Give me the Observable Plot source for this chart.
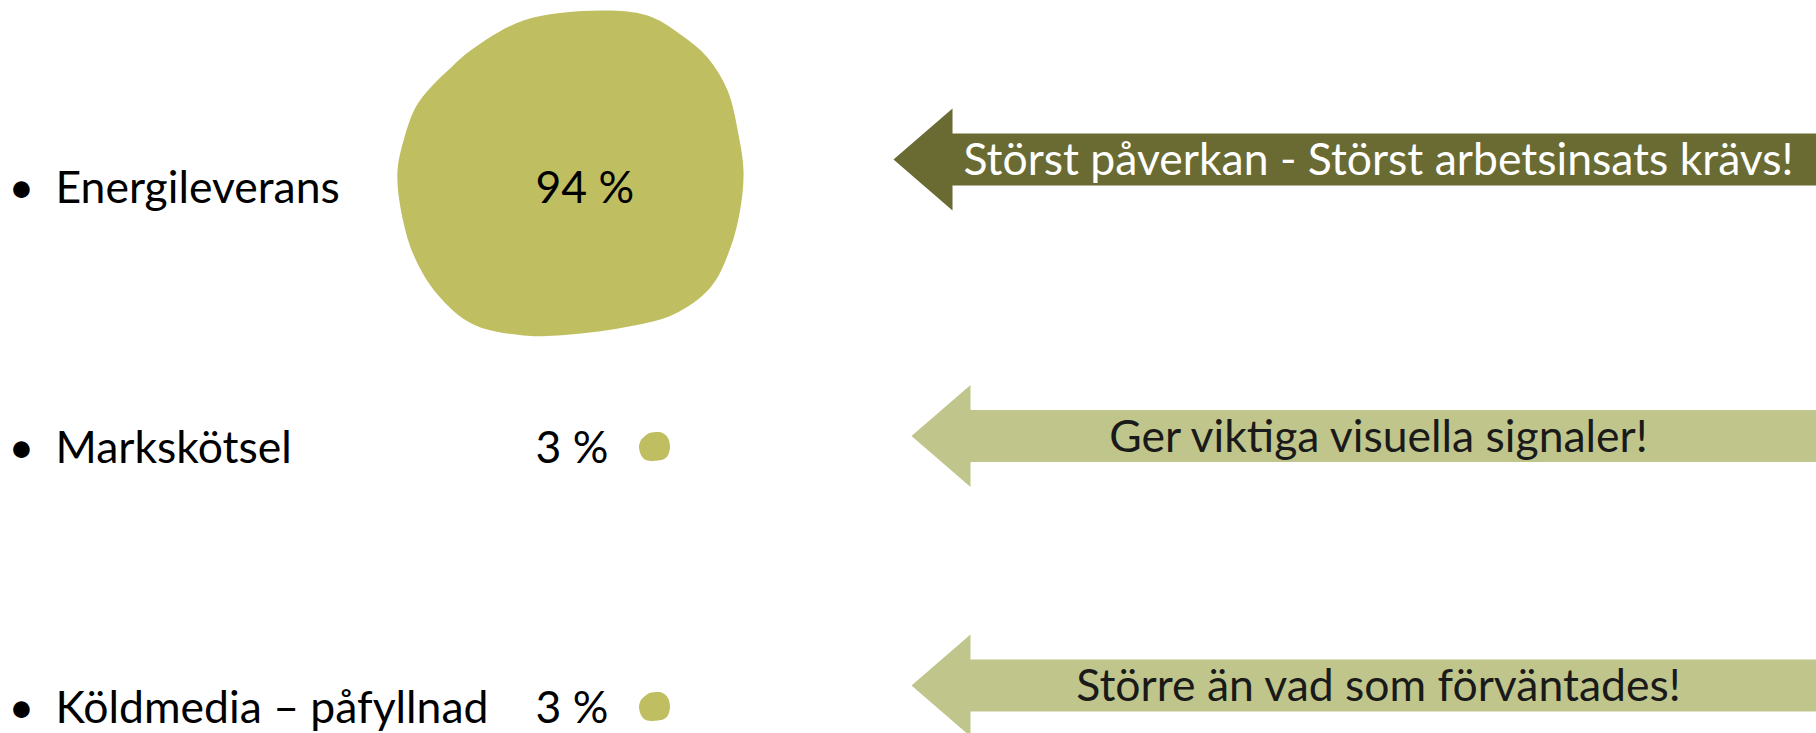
<!DOCTYPE html>
<html>
<head>
<meta charset="utf-8">
<script src="https://cdn.jsdelivr.net/npm/d3@7"></script>
<script src="https://cdn.jsdelivr.net/npm/@observablehq/plot@0.6"></script>
<style>
  html, body { margin: 0; padding: 0; background: #fff; overflow: hidden; }
  #chart svg { display: block; }
</style>
</head>
<body>
<div id="chart"></div>
<script>
// ---- data ----
const categories = ["Energileverans", "Markskötsel", "Köldmedia – påfyllnad"];
const shares = [94, 3, 3];
const shareLabels = ["94 %", "3 %", "3 %"];
const messages = [
  "Störst påverkan - Störst arbetsinsats krävs!",
  "Ger viktiga visuella signaler!",
  "Större än vad som förväntades!"
];
const emphasis = [true, false, false];

const rows = categories.map((category, i) => ({
  category, share: shares[i], label: shareLabels[i], message: messages[i], strong: emphasis[i]
}));

// ---- layout & style (not data) ----
const W = 1816, H = 733;
const FONT = "Lato, Carlito, Calibri, sans-serif";
const FS = 44.5;
const blobColor = "#BFBE60";
const arrowDark = "#696B33", arrowLight = "#C0C68B";
const bulletDx = 8, labelDx = 55, shareDx = 535;
const blobDx = 570, blobDy = -15.5, dotDx = 654, dotDy = -2;
const arrowTipDx = [893, 911, 911];
const arrowDy = [-29, -12.5, -23];
const messageDx = 1378;

// organic blob glyph (unit half-width), used as a Plot symbol
const blobOutline = [
  [0.173, -0.939], [0.445, -0.910], [0.636, -0.801], [0.792, -0.668], [0.908, -0.477],
  [0.971, -0.223], [1.0, -0.014], [0.983, 0.199], [0.925, 0.431], [0.809, 0.662],
  [0.595, 0.818], [0.306, 0.893], [-0.075, 0.939], [-0.272, 0.939], [-0.561, 0.876],
  [-0.769, 0.702], [-0.908, 0.471], [-0.983, 0.199], [-1.0, -0.014], [-0.965, -0.188],
  [-0.896, -0.379], [-0.809, -0.494], [-0.690, -0.610], [-0.578, -0.708], [-0.272, -0.882]
];
const blobSymbol = {
  draw(context, size) {
    const r = Math.sqrt(size / Math.PI);
    d3.line().curve(d3.curveCatmullRomClosed.alpha(0.5)).context(context)(
      blobOutline.map(([x, y]) => [x * r, y * r])
    );
  }
};
// left-pointing block arrow glyph, tip at the anchor point
const arrowSymbol = {
  draw(context, size) {
    const r = Math.sqrt(size / Math.PI); // head half-height
    const head = r * 1.157, shaft = r * 0.51, len = W;
    context.moveTo(0, 0);
    context.lineTo(head, -r);
    context.lineTo(head, -shaft);
    context.lineTo(len, -shaft);
    context.lineTo(len, shaft);
    context.lineTo(head, shaft);
    context.lineTo(head, r);
    context.closePath();
  }
};

const textBase = { y: "category", frameAnchor: "left", textAnchor: "start", fontSize: FS, fill: "#000" };

const arrowMarks = rows.flatMap((d, i) => [
  Plot.dot([d], {
    y: "category", frameAnchor: "left", dx: arrowTipDx[i], dy: arrowDy[i],
    symbol: arrowSymbol, r: 51, fill: d.strong ? arrowDark : arrowLight, stroke: "none"
  }),
  Plot.text([d], {
    y: "category", text: "message", frameAnchor: "left", dx: messageDx, dy: arrowDy[i] + 1.5,
    textAnchor: "middle", fontSize: FS, fill: d.strong ? "#ffffff" : "#1a1a1a"
  })
]);

const chart = Plot.plot({
  width: W,
  height: H,
  margin: 0,
  style: { fontFamily: FONT, background: "#fff" },
  y: { type: "point", domain: categories, range: [187.5, 708.5], padding: 0, axis: null },
  r: { type: "linear", domain: [3, 94], range: [15.5, 173] },
  marks: [
    Plot.dot(rows.filter(d => d.share >= 50), {
      y: "category", r: "share", symbol: blobSymbol, fill: blobColor, stroke: "none",
      frameAnchor: "left", dx: blobDx, dy: blobDy
    }),
    Plot.dot(rows.filter(d => d.share < 50), {
      y: "category", r: "share", symbol: blobSymbol, fill: blobColor, stroke: "none",
      frameAnchor: "left", dx: dotDx, dy: dotDy
    }),
    Plot.text(rows, { ...textBase, text: () => "•", dx: bulletDx }),
    Plot.text(rows, { ...textBase, text: "category", dx: labelDx }),
    Plot.text(rows, { ...textBase, text: "label", dx: shareDx }),
    ...arrowMarks
  ]
});

document.getElementById("chart").append(chart);
</script>
</body>
</html>
